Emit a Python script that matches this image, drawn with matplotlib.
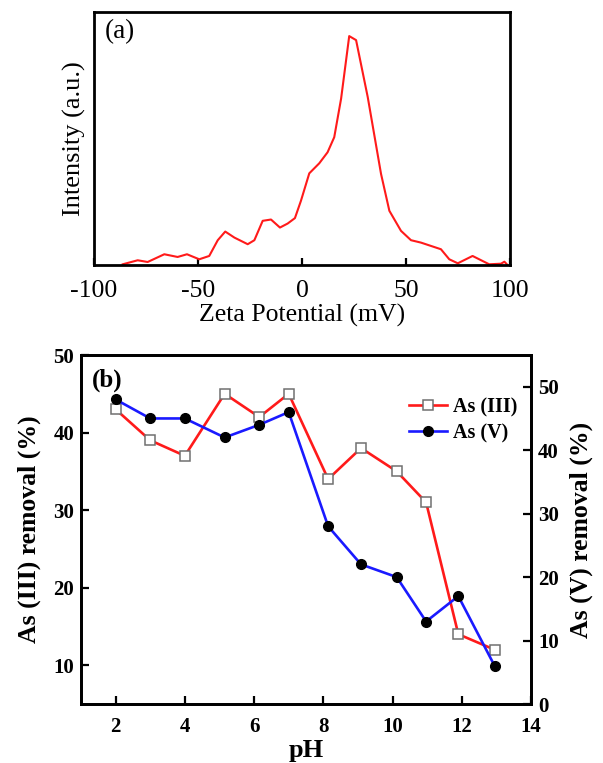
import matplotlib
matplotlib.use("Agg")
import matplotlib.pyplot as plt

plt.rcParams['font.family'] = ['Liberation Serif', 'DejaVu Serif']
plt.rcParams['axes.unicode_minus'] = False

# ---- Panel (a) data: zeta potential distribution ----
zeta_mv = [-86.2, -79.0, -74.2, -66.2, -59.8, -55.3, -49.4, -44.6, -40.5, -36.9,
           -32.5, -26.1, -22.9, -18.9, -14.9, -10.6, -6.9, -3.4, -0.5, 3.5,
           8.3, 12.3, 15.5, 18.8, 22.7, 26.0, 31.6, 38.0, 42.0, 47.6,
           52.4, 57.2, 62.0, 66.8, 70.8, 74.9, 82.0, 90.0, 95.7, 97.3, 98.5]
intensity = [0.7, 4.7, 3.0, 10.7, 8.0, 10.7, 5.7, 9.0, 24.7, 33.3,
             27.3, 20.7, 24.7, 44.0, 45.3, 37.3, 41.3, 46.7, 64.0, 91.3,
             101.3, 112.3, 127.3, 165.7, 228.0, 224.0, 167.3, 90.7, 54.0, 34.0,
             24.7, 22.3, 19.0, 15.7, 5.7, 1.7, 9.0, 0.7, 1.3, 3.3, 0.7]
zeta_ticks = [-100, -50, 0, 50, 100]

# ---- Panel (b) data: removal vs pH ----
ph = [2.0, 3.0, 4.0, 5.15, 6.15, 7.0, 8.14, 9.09, 10.12, 10.97, 11.9, 12.95]
as3_removal = [43, 39, 37, 45, 42, 45, 34, 38, 35, 31, 14, 12]
as5_removal = [48, 45, 45, 42, 44, 46, 28, 22, 20, 13, 17, 6]
ph_ticks = [2, 4, 6, 8, 10, 12, 14]
left_ticks = [10, 20, 30, 40, 50]
right_ticks = [0, 10, 20, 30, 40, 50]

W, H = 603, 763
fig = plt.figure(figsize=(W / 100, H / 100), dpi=100)

def rect(l, t, r, b):
    return [l / W, 1 - b / H, (r - l) / W, (b - t) / H]

# ---------------- Panel (a) ----------------
axa = fig.add_axes(rect(94, 12, 510, 265))
axa.plot(zeta_mv, intensity, color='#ff1a1a', lw=1.5)
axa.set_xlim(-100, 100)
axa.set_ylim(0, 252)
axa.set_xticks(zeta_ticks)
axa.set_yticks([])
axa.tick_params(axis='x', direction='in', length=5, width=1.6, labelsize=18.5, pad=11,
                top=False)
for s in axa.spines.values():
    s.set_linewidth(2.0)
axa.set_xlabel('Zeta Potential (mV)', fontsize=18.5, labelpad=1)
axa.set_ylabel('Intensity (a.u.)', fontsize=19, labelpad=6)
axa.text(0.025, 0.97, '(a)', transform=axa.transAxes, fontsize=19.5,
         ha='left', va='top')

# ---------------- Panel (b) ----------------
axb = fig.add_axes(rect(81, 355, 531, 704))
axb2 = axb.twinx()
l1, = axb.plot(ph, as3_removal, color='#ff1a1a', lw=1.9, marker='s', ms=7,
               mfc='white', mec='#707070', mew=1.1, label='As (III)')
l2, = axb2.plot(ph, as5_removal, color='#1a1aff', lw=1.9, marker='o', ms=7,
                mfc='black', mec='black', label='As (V)')
axb.set_xlim(1, 14)
axb.set_ylim(5, 50)
axb2.set_ylim(0, 55)
axb.set_xticks(ph_ticks)
axb.set_yticks(left_ticks)
axb2.set_yticks(right_ticks)
axb.tick_params(axis='both', direction='in', length=5.5, width=1.6,
                labelsize=15, top=False, right=False)
axb.tick_params(axis='x', pad=9)
axb.tick_params(axis='y', pad=5)
axb2.tick_params(axis='y', direction='in', length=5.5, width=1.6,
                 labelsize=15, pad=5)
for lab in axb.get_xticklabels() + axb.get_yticklabels() + axb2.get_yticklabels():
    lab.set_fontweight('bold')
for ax in (axb, axb2):
    for s in ax.spines.values():
        s.set_linewidth(2.0)
axb.set_xlabel('pH', fontsize=19, fontweight='bold', labelpad=2)
axb.set_ylabel('As (III) removal (%)', fontsize=18.5, fontweight='bold', labelpad=9)
axb2.set_ylabel('As (V) removal (%)', fontsize=18.5, fontweight='bold', labelpad=8)
axb.text(0.025, 0.96, '(b)', transform=axb.transAxes, fontsize=18,
         fontweight='bold', ha='left', va='top')
leg = axb.legend(handles=[l1, l2], loc='upper right',
                 bbox_to_anchor=(1.0, (704 - 383) / 349), borderaxespad=0.3,
                 frameon=False, handlelength=1.9, handletextpad=0.25,
                 labelspacing=0.3, prop={'size': 14.5, 'weight': 'bold'})

fig.savefig('out.png', dpi=100)
